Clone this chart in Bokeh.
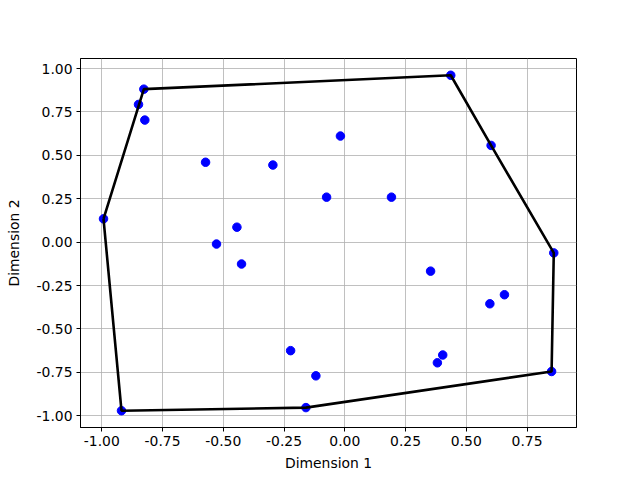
from bokeh.plotting import figure
from bokeh.models import FixedTicker, NumeralTickFormatter, Range1d, ColumnDataSource
from bokeh.embed import file_html
from bokeh.resources import INLINE

# Data
dim1 = [-0.827, -0.849, -0.823, 0.436, 0.602, -0.018, -0.573, -0.296, -0.075, 0.192,
        -0.993, -0.444, -0.528, -0.425, 0.860, 0.353, 0.657, 0.597, -0.223, -0.119,
        0.403, 0.381, 0.851, -0.919, -0.160]
dim2 = [0.881, 0.793, 0.703, 0.961, 0.557, 0.611, 0.460, 0.444, 0.259, 0.259,
        0.134, 0.086, -0.011, -0.126, -0.062, -0.167, -0.303, -0.355, -0.625, -0.770,
        -0.650, -0.695, -0.745, -0.971, -0.953]
# order of points forming the outline (closed)
hull_idx = [10, 0, 3, 4, 14, 22, 24, 23, 10]

x_ticks = [-1.00, -0.75, -0.50, -0.25, 0.00, 0.25, 0.50, 0.75]
y_ticks = [-1.00, -0.75, -0.50, -0.25, 0.00, 0.25, 0.50, 0.75, 1.00]

FONT = "DejaVu Sans"
FS = "13.9px"

p = figure(width=626, height=472, output_backend="svg", toolbar_location=None,
           x_range=Range1d(-1.0877, 0.9535), y_range=Range1d(-1.0676, 1.0576),
           min_border_left=80, min_border_right=50, min_border_top=58, min_border_bottom=45)
p.frame_width = 496
p.frame_height = 369

p.background_fill_color = "white"
p.border_fill_color = "white"
p.outline_line_color = "black"
p.outline_line_width = 1

for ax, ticks, lab in ((p.xaxis[0], x_ticks, "Dimension 1"), (p.yaxis[0], y_ticks, "Dimension 2")):
    ax.ticker = FixedTicker(ticks=ticks)
    ax.formatter = NumeralTickFormatter(format="0.00")
    ax.axis_label = lab
    ax.axis_label_text_font = FONT
    ax.axis_label_text_font_size = FS
    ax.axis_label_text_font_style = "normal"
    ax.axis_label_text_color = "black"
    ax.major_label_text_font = FONT
    ax.major_label_text_font_size = FS
    ax.major_label_text_color = "black"
    ax.axis_line_color = "black"
    ax.major_tick_line_color = "black"
    ax.major_tick_in = 0
    ax.major_tick_out = 4
    ax.minor_tick_line_color = None
    ax.major_label_standoff = 4

p.xaxis.axis_label_standoff = 6
p.yaxis.axis_label_standoff = 12
p.yaxis.major_label_orientation = "horizontal"

p.grid.grid_line_color = "#b0b0b0"
p.grid.grid_line_width = 0.8
p.grid.grid_line_alpha = 1.0

src = ColumnDataSource(dict(x=dim1, y=dim2))
p.scatter("x", "y", source=src, size=8.5, color="blue", line_color="blue")

hx = [dim1[i] for i in hull_idx]
hy = [dim2[i] for i in hull_idx]
p.line(hx, hy, line_color="black", line_width=2.6)

open("out.html", "w").write(file_html(p, INLINE))
